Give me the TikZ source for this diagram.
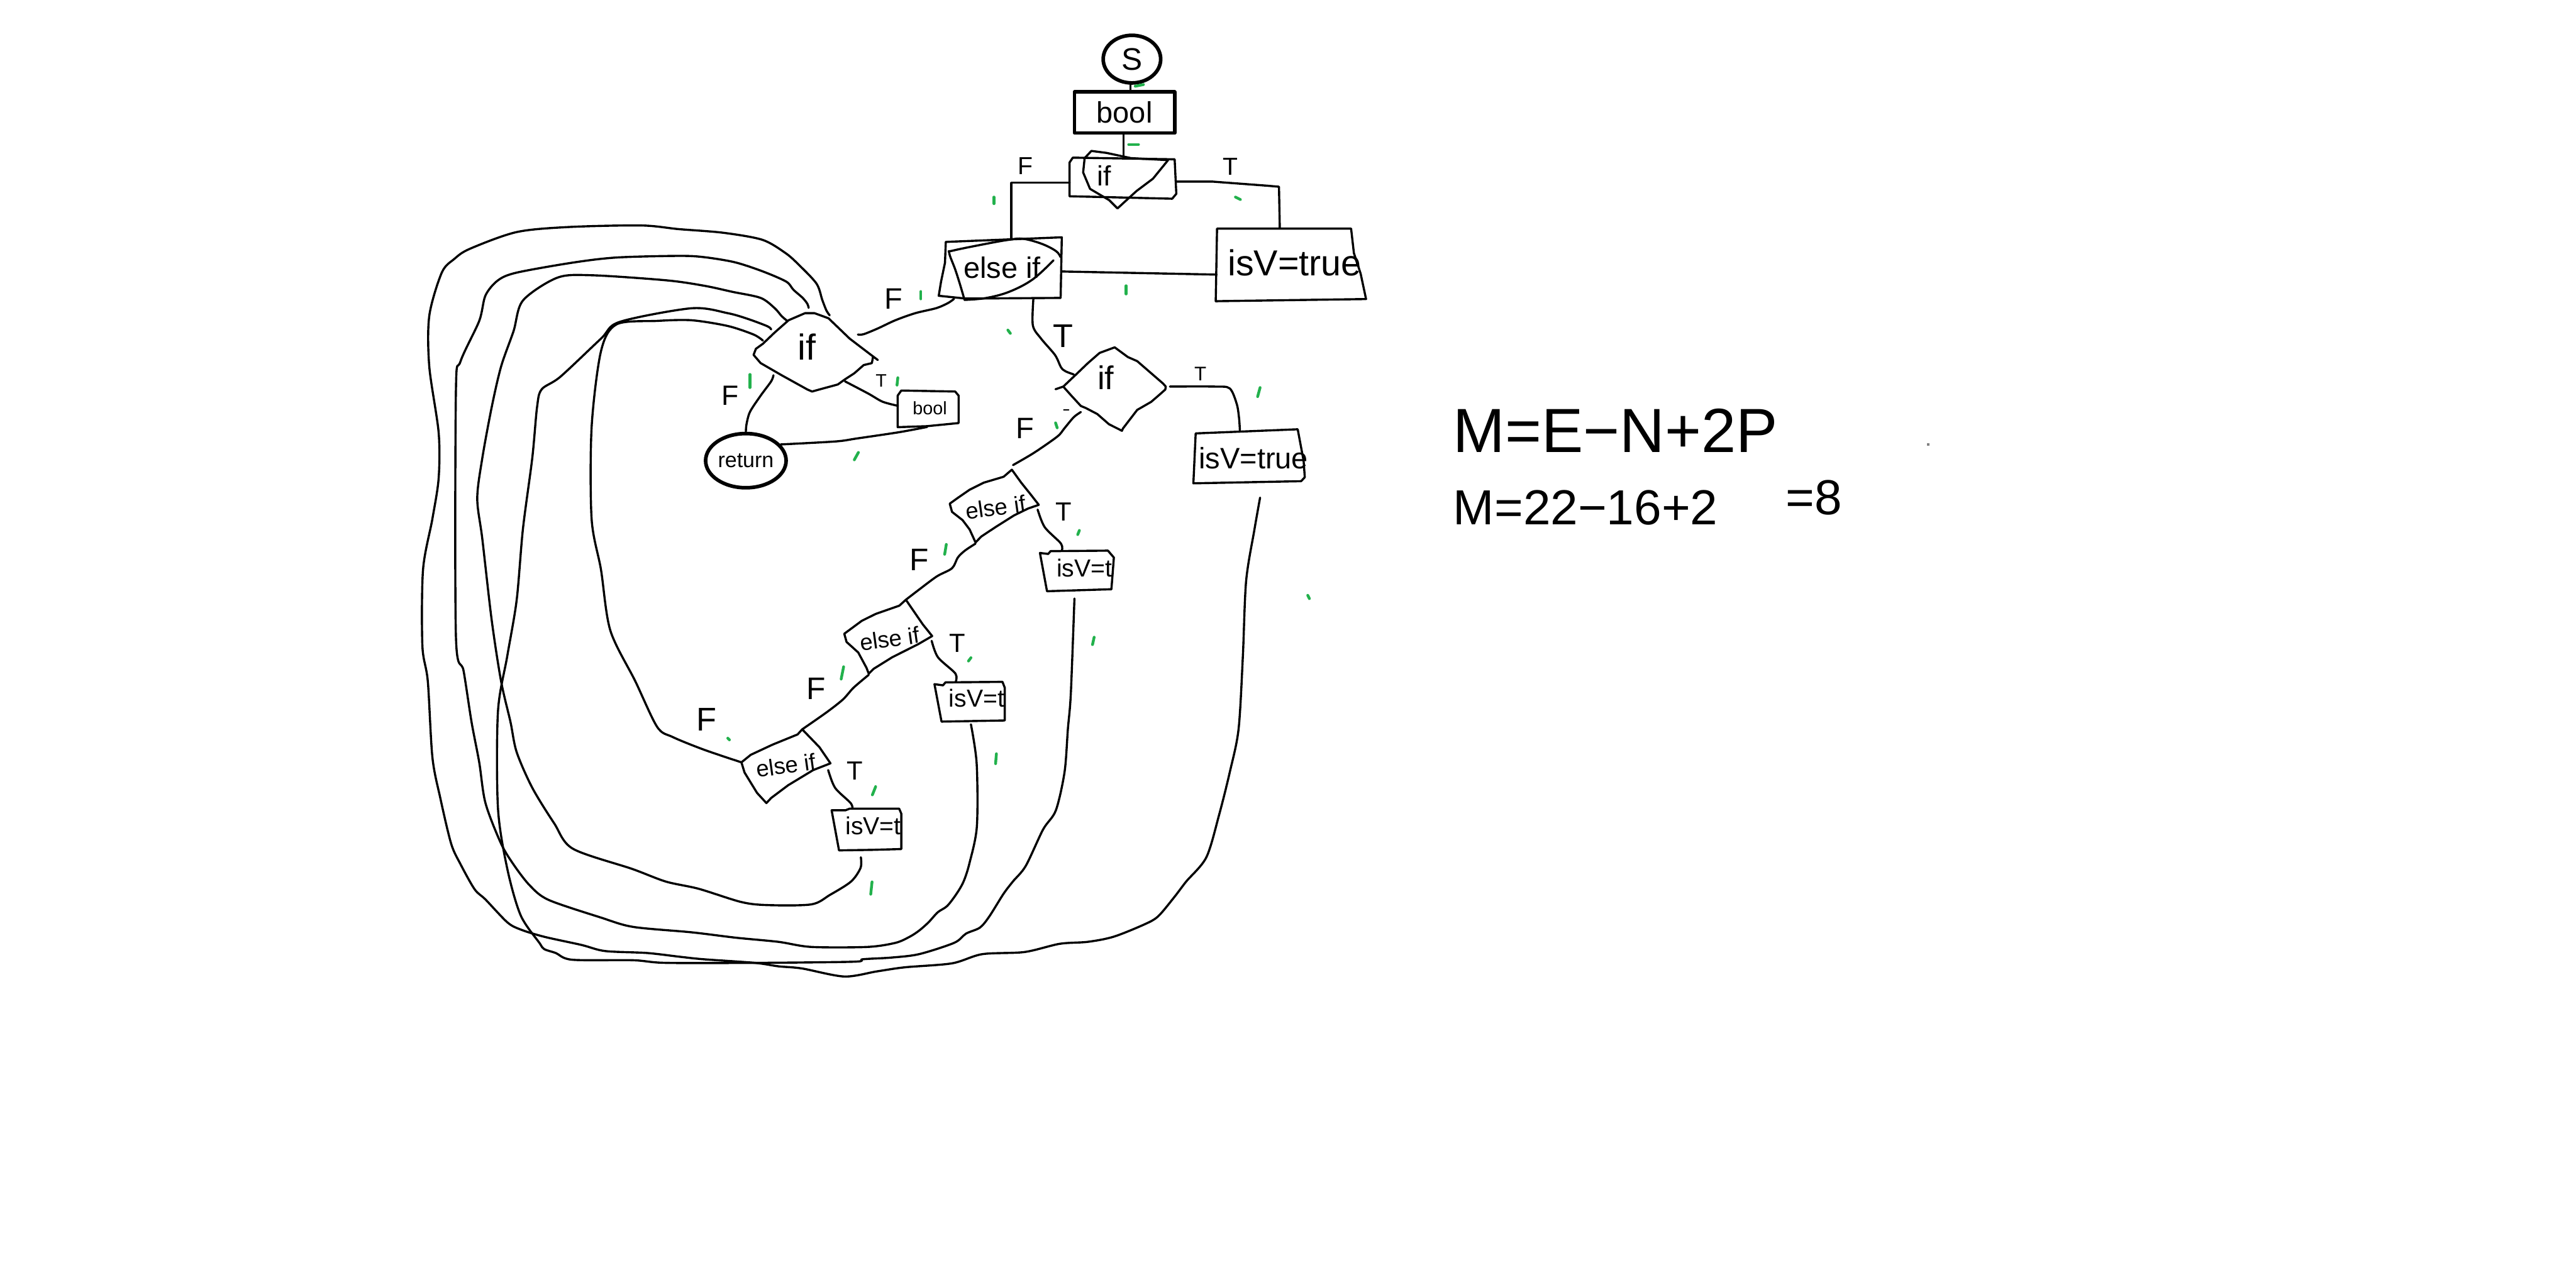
\documentclass[tikz,border=0pt]{standalone}
\usepackage{fontspec}
\newfontfamily\hand{Liberation Sans}
\usetikzlibrary{calc,shapes.geometric}
\definecolor{mark}{RGB}{34,177,76}
\newcommand\fs[1]{\hand\fontsize{#1}{#1}\selectfont}
\begin{document}
\begin{tikzpicture}[x=1pt,y=-1pt,line width=1.3pt,line cap=round,line join=round,
  hold/.style={inner sep=0pt,outer sep=0pt,rectangle,draw=none},
  txt/.style={inner sep=0pt},
  gm/.style={draw=mark,line width=1.7pt,line cap=round},
  thk/.style={line width=2.2pt},
  curve/.style={smooth,tension=0.5}]
\useasboundingbox[fill=white] (0,0) rectangle (1568,769);

% ---------- nodes ----------
\node[ellipse,draw,thk,inner sep=0pt,minimum width=35pt,minimum height=29pt,font=\fs{19}] (S) at (689,36) {S};
\node[rectangle,draw,thk,inner sep=0pt,minimum width=61pt,minimum height=25pt,font=\fs{18}] (bool) at (684.5,68.5) {bool};

\node[hold,minimum width=65pt,minimum height=24pt] (ifn) at (683.5,108) {};
\draw (651,99) -- (653,96) -- (715,97) -- (716,118) -- (713.5,121) -- (651,119.5) -- cycle;
\draw (664.3,91.9) -- (673.5,93.1) -- (688.5,96.3) -- (711,97.5) -- (701.8,108.8) -- (691.8,116.3) -- (680.2,126.9) -- (675.2,121.9) -- (663.5,115) -- (659.3,105) -- (660.2,96.3) -- cycle;
\node[txt,font=\fs{17}] (ift) at (672,107) {if};

\node[hold,minimum width=71pt,minimum height=37pt] (eif) at (610.5,163.5) {};
\draw (575.7,147.3) -- (646.3,144.5) -- (645.6,181.4) -- (587.8,181.8) -- (571.4,180.1) -- (572.8,171.5) -- (575.2,160) -- cycle;
\draw plot[smooth,tension=0.6] coordinates {(587.1,182.6) (584.2,172.7) (581.4,164) (577.8,154.1) (580,152.6) (600,148.5) (614.2,146) (622.8,145.4) (634.2,148.5) (642.8,152.9) (645.5,156.5)};
\draw plot[smooth,tension=0.6] coordinates {(641.3,158.5) (628.5,170.2) (614.2,177.7) (600,181.5) (587.1,182.6)};
\node[txt,font=\fs{18}] (eift) at (610,163) {else if};

\node[hold,minimum width=90pt,minimum height=44pt] (isvt) at (785.5,161) {};
\draw (740.8,139.2) -- (822.4,139.2) -- (824.1,154.1) -- (828.2,166.6) -- (831.5,182.1) -- (740,183.4) -- cycle;
\node[txt,font=\fs{22}] (isvtt) at (788,160) {isV=true};

% left "if" diamond
\draw (531.4,217.3) -- (530.7,221.1) -- (525.7,222.3) -- (520,227.3) -- (514.3,231) -- (510,234.1) -- (498.6,237.2) -- (494.3,238.4) -- (491.5,237.2) -- (475.8,228.5) -- (463,221.1) -- (458.7,216.1) -- (460.1,212.4) -- (464.4,209.3) -- (471.5,202.5) -- (480,195) -- (490,190.7) -- (495.8,190.7) -- (504.3,193.8) -- (517.2,206.2) -- (528.6,214.9) -- (534.3,219.2);
\node[txt,font=\fs{22}] (nift) at (491,211) {if};
\coordinate (nif-a) at (505,192);
\coordinate (nif-b) at (492.2,187.5);
\coordinate (nif-c) at (479.4,195.6);
\coordinate (nif-d) at (469.4,200.6);
\coordinate (nif-e) at (464.4,207.4);
\coordinate (nif-f) at (522.2,203.7);
\coordinate (nif-bl) at (470.8,228.5);
\coordinate (nif-br) at (514.3,232.2);

\node[hold,minimum width=37pt,minimum height=22pt] (sbool) at (565,249) {};
\draw (548.6,237.8) -- (581.4,238.4) -- (583.5,240.9) -- (583.5,257.6) -- (564.3,259.5) -- (546.4,260.1) -- (546.4,240.9) -- cycle;
\node[txt,font=\fs{11}] (sboolt) at (566,248.5) {bool};

\node[ellipse,draw,thk,inner sep=0pt,minimum width=49pt,minimum height=33pt,font=\fs{13}] (ret) at (454,280.5) {return};

% right "if" diamond
\draw (642.5,237) -- (647.2,235.4) -- (652.2,241) -- (657.9,247.2) -- (660.8,248.4) -- (667.9,252.1) -- (675,258.3) -- (682.9,262.3) -- (683.6,260.8) -- (692.2,249.6) -- (700.7,244.7) -- (705,241) -- (709.3,237.2) -- (709.6,235.4) -- (707.9,233.5) -- (692.2,219.9) -- (686.5,217.4) -- (678.5,211.5) -- (669.3,214.9) -- (662.2,221.1) -- (655,228) -- (647.2,235.4);
\node[txt,font=\fs{20}] (if2t) at (673,230) {if};
\coordinate (if2-ul) at (653.6,228);
\coordinate (if2-r) at (712.1,235.4);
\coordinate (if2-bl) at (657.9,250.9);

\node[hold,minimum width=67pt,minimum height=32pt] (isv2) at (760.5,278) {};
\draw (727.8,263.9) -- (789.9,261.4) -- (793.5,280.6) -- (794.2,290.6) -- (792,293) -- (726.4,294.3) -- cycle;
\node[txt,font=\fs{18}] (isv2t) at (763,279) {isV=true};

% else if 2
\draw (615.9,286) -- (610.9,290.3) -- (598.8,293.9) -- (590.2,298.2) -- (583.1,303.1) -- (578.1,306.7) -- (579.5,311.7) -- (585.9,316.7) -- (590.2,322.4) -- (593.8,330.3) -- (597.3,326.7) -- (605.9,321) -- (617.3,313.8) -- (625.9,309.6) -- (632.3,307.4) -- (627.3,301) -- (621.6,293.9) -- cycle;
\node[txt,font=\fs{14},rotate=8] (eif2t) at (606,309) {else if};
\coordinate (eif2-t) at (616.6,283.2);
\coordinate (eif2-r) at (631.6,310.3);
\coordinate (eif2-b) at (593.8,331);

\node[hold,minimum width=44pt,minimum height=24.5pt] (isv3) at (655.5,347.7) {};
\draw (633,336.7) -- (638,337.3) -- (639.5,335.6) -- (674.4,335.3) -- (678,339.5) -- (676.5,358.8) -- (637.3,360) -- cycle;
\node[txt,font=\fs{15}] (isv3t) at (660,346) {isV=t};

% else if 3
\draw (551.4,365.2) -- (547.4,368.8) -- (533.1,373.8) -- (524.6,378) -- (513.9,385.9) -- (515.3,390.9) -- (522.4,397.3) -- (527.4,406.6) -- (528.8,410.2) -- (531.7,407.3) -- (543.1,400.2) -- (558.8,392.3) -- (567.4,387.3) -- (561.7,380.2) -- cycle;
\node[txt,font=\fs{14},rotate=8] (eif3t) at (541.5,389) {else if};
\coordinate (eif3-t) at (551.4,365.2);
\coordinate (eif3-r) at (567.1,390.2);
\coordinate (eif3-b) at (528.8,410.9);

\node[hold,minimum width=42pt,minimum height=23.5pt] (isv4) at (590.5,427.3) {};
\draw (568.8,416.6) -- (574,417.3) -- (575.5,415.5) -- (610.2,415.2) -- (611.6,418.8) -- (611.6,438.7) -- (573.1,439.4) -- cycle;
\node[txt,font=\fs{15}] (isv4t) at (594.5,425) {isV=t};

% else if 4
\draw (488.3,444.1) -- (485.5,447.2) -- (470.3,453.4) -- (457,459.6) -- (451.3,464.2) -- (453.2,470.4) -- (460.8,482.8) -- (466.5,489) -- (469.4,485.9) -- (479.8,478.1) -- (495,468.9) -- (505.5,464.8) -- (498.8,455) -- cycle;
\node[txt,font=\fs{14},rotate=8] (eif4t) at (478.5,466) {else if};
\coordinate (eif4-t) at (488.3,444.1);
\coordinate (eif4-r) at (504.1,468.9);
\coordinate (eif4-l) at (451.3,464.2);

\node[hold,minimum width=42pt,minimum height=25pt] (isv5) at (527.5,505) {};
\draw (506.2,493.4) -- (514.6,493.4) -- (517.2,492.4) -- (547.3,492.4) -- (548.6,495.4) -- (548.6,517) -- (530.3,517.5) -- (510.7,517.8) -- cycle;
\node[txt,font=\fs{15}] (isv5t) at (531.5,503) {isV=t};

% loop start points
\coordinate (isv2-o) at ($(isv2.south -| 767,0)+(0,9)$);
\coordinate (isv3-o) at ($(isv3.south -| 654,0)+(0,4.5)$);
\coordinate (isv4-o) at ($(isv4.south -| 591,0)+(0,2)$);
\coordinate (isv5-o) at ($(isv5.south -| 524,0)+(0,4.5)$);

% ---------- connectors ----------
\draw (S.south -| 688,0) -- (bool.north -| 688,0);
\draw (bool.south -| 684,0) -- (ifn.north -| 684,0);
\draw (ifn.west |- 0,111.3) -- (615.5,111.3) -- (eif.north -| 615.5,0);
\draw (ifn.east |- 0,110.6) -- (738.3,110.6) -- (771.6,113.1) -- (778.5,113.7) -- (isvt.north -| 779,0);
\draw (eif.east |- 0,165.3) -- (isvt.west |- 0,167.2);
\draw plot[curve] coordinates {(eif.south -| 580.7,0) (577.1,184.5) (570,187.6) (557.1,190.7) (545,195) (534.3,200) (525.7,203.5) (nif-f)};
\draw plot[curve] coordinates {(eif.south -| 629,0) (628.7,198.2) (633.7,206.2) (642.2,216.2) (645.8,223.6) (648.6,226.1) (if2-ul)};
\draw plot[curve] coordinates {(nif-bl) (469.4,232.2) (463,240.9) (456.5,250.8) (454.4,258.3) (ret.north)};
\draw plot[curve] coordinates {(nif-br) (528.6,239.7) (537.2,244.6) (sbool.west |- 0,247.1)};
\draw plot[curve] coordinates {(sbool.south -| 564.3,0) (547.1,263.2) (521.5,267) (508.6,268.8) (ret.25)};
\draw plot[curve] coordinates {(if2-r) (739.2,235.4) (748.5,236.5) (752.8,246) (754.2,254.6) (isv2.north -| 754.7,0)};
\draw plot[curve] coordinates {(if2-bl) (653.6,254) (647.9,260.8) (643.6,265.8) (629.4,275.7) (eif2-t)};
\draw plot[curve] coordinates {(eif2-r) (635.9,321) (645.8,331) (isv3.north -| 646.3,0)};
\draw plot[curve] coordinates {(eif2-b) (587.3,335.3) (583,339.5) (579.5,346) (570.2,351) (558.8,359.5) (eif3-t)};
\draw plot[curve] coordinates {(eif3-r) (570.9,400.2) (581.6,410.2) (isv4.north -| 581.6,0)};
\draw plot[curve] coordinates {(eif3-b) (519.6,418.7) (513.1,425.9) (503.2,433.7) (eif4-t)};
\draw plot[curve] coordinates {(eif4-r) (508.3,479.7) (517.8,489) (isv5.north -| 518.8,0)};
% loop from else if 4 (F)
\draw plot[curve] coordinates {(eif4-l) (428.5,456.5) (409.5,448.8) (400,442.6) (386.7,414.8) (371.5,383.9) (365.8,346.8) (360.1,315.9) (360.1,260.3) (365.8,213.9) (375.3,197.5) (400,195.4) (420.9,195) (443,198.5) (458.7,203.7) (nif-e)};
% loop from isV=t (5)
\draw plot[curve] coordinates {(isv5-o) (523.8,528.5) (518,536.8) (505.2,544.9) (493.8,550.7) (466.7,551.1) (451,549.2) (425.3,541.2) (405.3,536.8) (384.8,529.1) (348.7,516.8) (337.3,501.3) (324,479.7) (314.5,458) (310.7,439.5) (305,414.8) (299.3,377.7) (293.6,328.3) (290.5,303.5) (293.6,278.8) (299.3,247.9) (305,223.2) (312.6,201.6) (318.3,183) (339.2,169.1) (360.1,167.6) (405.7,170.7) (428.7,174) (445.8,177.7) (463,181.4) (471.5,187.6) (475.8,192.5) (nif-c)};
% loop from isV=t (4)
\draw plot[curve] coordinates {(isv4-o) (594.5,465.1) (594.6,503.4) (590,526) (586.5,536.8) (582.2,544.3) (576.5,551.7) (570.8,555.5) (565.1,561.7) (559.4,566.7) (553.7,570.4) (545.1,574.1) (528,576.6) (493.8,576.6) (473.8,573.5) (448.1,571) (421,567.7) (385.4,564.4) (365.4,558.6) (334,548) (322.6,539.3) (313,527) (305,513.7) (295.5,489) (291.7,464.2) (287,439.5) (282.2,408.6) (277.5,387) (277.5,238.7) (280.3,220.1) (291.7,195.4) (295.5,179.9) (303.1,170.7) (314.5,166) (348.7,159.9) (375.3,156.8) (413.3,155.8) (428.7,156.6) (447.3,159.7) (464.4,165.3) (478.6,171.5) (482.9,176.4) (488.6,181.4) (491.5,185.1) (nif-b)};
% loop from isV=t (3)
\draw plot[curve] coordinates {(isv3-o) (651.8,422.3) (650,444) (648,470) (642.7,493.4) (634.9,505.1) (624.4,527.2) (616.5,536.8) (610.8,544.3) (602.2,558) (596.5,564.8) (588,568.5) (580.8,574.1) (559.4,581) (542.3,583.1) (525.2,584.1) (519.5,585.6) (459.5,586.3) (405.3,586.3) (385.4,584.7) (348.3,584.4) (338.3,580.3) (331.2,577.9) (328.3,574.1) (316.9,557.3) (308.8,529.1) (303.1,492) (303.1,433.3) (308.8,399.3) (314.5,365.3) (318.3,322.1) (324,278.8) (326.9,247.9) (329.7,237.1) (341.1,229.4) (365.8,206.2) (377.2,196) (420.9,187.7) (443,190.7) (455.8,194.4) (467.2,198.7) (nif-d)};
% loop from isV=true (2)
\draw plot[curve] coordinates {(isv2-o) (763.5,322.8) (758.5,353.8) (756.5,400) (753.9,444) (748.6,470) (742.1,496) (734.3,522) (722,536.8) (714.9,546.1) (704.9,558) (696.3,563) (677.8,570.4) (662.1,573.5) (645,574.7) (623.6,579.7) (597.9,581) (579.4,586.6) (550.8,589) (533.7,591.5) (513.8,594.6) (488.1,589.7) (473.8,588.4) (459.5,586.3) (428.2,584.1) (413.9,582.6) (393.9,580.3) (368.3,579.1) (354,575.4) (331.2,570.4) (316.9,566) (308.8,561.6) (295.5,547.7) (288.9,541.5) (280.3,526.2) (274.6,513.7) (268,485.9) (263.2,461.1) (260.4,414.8) (257.1,393.2) (257.5,346.8) (263.2,315.9) (267,291.2) (267,263.4) (261.3,223.2) (261.3,192.3) (268.9,166) (276.5,157.7) (286,151.5) (314.5,141.3) (346.8,138.2) (390.5,137.3) (413,139.5) (440,141.7) (464,146) (478,154) (486,161) (497,172.7) (500.5,182.6) (503,189) (nif-a)};

% ---------- edge labels ----------
\node[txt,font=\fs{15}] (lF1) at (624,101) {F};
\node[txt,font=\fs{15}] (lT1) at (749,101.5) {T};
\node[txt,font=\fs{18}] (lF2) at (544,182) {F};
\node[txt,font=\fs{20}] (lT2) at (647,204.5) {T};
\node[txt,font=\fs{17}] (lF3) at (444.4,241) {F};
\node[txt,font=\fs{11}] (lT3) at (536.4,232) {T};
\node[txt,font=\fs{12}] (lT4) at (730.7,227.6) {T};
\node[txt,font=\fs{18}] (lF4) at (624,261) {F};
\node[txt,font=\fs{16}] (lT5) at (647.6,311.7) {T};
\node[txt,font=\fs{19}] (lF5) at (559.5,341) {F};
\node[txt,font=\fs{16}] (lT6) at (582.7,391.6) {T};
\node[txt,font=\fs{19}] (lF6) at (496.7,419.5) {F};
\node[txt,font=\fs{16}] (lT7) at (520.3,469.4) {T};
\node[txt,font=\fs{20}] (lF7) at (430,438) {F};

% ---------- formulas ----------
\node[txt,anchor=west,font=\fs{38}] (f1) at (884,262) {M=E−N+2P};
\node[txt,anchor=west,font=\fs{30}] (f2) at (884,309) {M=22−16+2};
\node[txt,font=\fs{30}] (f3) at (1104,303) {=8};

% ---------- green tally marks ----------
\foreach \p/\q in {{691,52.5}/{696,51.5},{687,88}/{693,88},{752,120}/{755,121.5},{605,120}/{605,124},
  {560.5,177.5}/{560.5,182},{685.5,174}/{685.5,179},{613.5,201}/{615,203},{546.5,230}/{546,234.5},
  {456.5,228}/{456.5,236},{520,280}/{522.5,275.5},{765.5,241.5}/{767,236},{642.5,257.5}/{643.5,260.5},
  {656,325.5}/{657,323},{575,337.5}/{576,331.5},{665,392.5}/{666,388},{589.5,402.5}/{591,400.5},
  {512,413.5}/{513.5,406},{606,465}/{606.5,459},{443,449.5}/{444,450.5},{531,484}/{533,479},
  {530,544.5}/{530.8,537},{796,362.5}/{797,364.5}}
  \draw[gm] (\p) -- (\q);
\draw[line width=0.9pt] (647.5,249.6) -- (650.5,249.6);
\fill[gray] (1173,270) rectangle (1174.5,271.5);
\end{tikzpicture}
\end{document}
